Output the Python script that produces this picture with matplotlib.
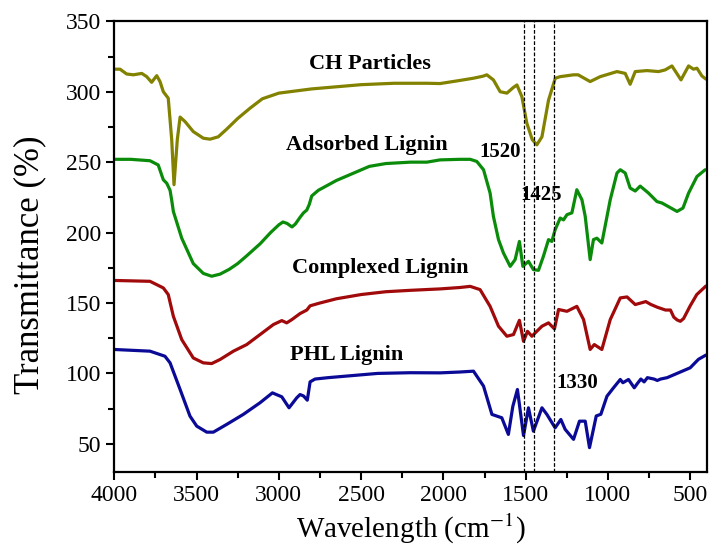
import matplotlib
matplotlib.use("Agg")
import matplotlib.pyplot as plt
from matplotlib.ticker import MultipleLocator

# FTIR spectra (wavenumber, transmittance)
ch_wn = [4000, 3965, 3925, 3884, 3833, 3803, 3773, 3742, 3722, 3702, 3672, 3651, 3637, 3617, 3600,
         3570, 3520, 3459, 3418, 3368, 3317, 3250, 3175, 3100, 3000, 2900, 2800, 2700, 2500, 2300,
         2100, 2020, 1900, 1817, 1760, 1736, 1696, 1655, 1614, 1575, 1553, 1523, 1493, 1460, 1432,
         1401, 1361, 1320, 1290, 1209, 1181, 1108, 1047, 945, 895, 865, 834, 763, 692, 652, 611,
         556, 510, 480, 459, 429, 405]
ch_t = [316, 316, 312.6, 312, 313, 310.7, 306.7, 311.4, 307.2, 300, 295.4, 266, 234, 266, 282,
        278.8, 271.7, 267, 266.3, 268, 273.4, 281, 288.3, 295, 299, 300.5, 302, 303, 305, 306,
        306, 305.8, 308, 309.6, 311, 312, 308.4, 300, 299, 303, 304.8, 296.5, 277.7, 266, 262.3,
        268, 294, 309.6, 310.7, 312, 312, 307.2, 310.7, 314.3, 313, 305.3, 314.3, 315, 314.3, 315.5, 318.3,
        308.4, 318.3, 316, 316.7, 311.2, 309]

ad_wn = [4000, 3900, 3783, 3733, 3702, 3681, 3661, 3651, 3641, 3590, 3520, 3459, 3408, 3357, 3300,
         3250, 3200, 3114, 3050, 3000, 2975, 2950, 2920, 2900, 2870, 2850, 2830, 2815, 2800, 2760,
         2650, 2550, 2450, 2350, 2200, 2100, 2020, 1900, 1837, 1797, 1756, 1716, 1696, 1665, 1635,
         1594, 1564, 1538, 1517, 1483, 1453, 1422, 1392, 1361, 1341, 1321, 1290, 1270, 1249, 1219,
         1189, 1158, 1138, 1108, 1088, 1067, 1037, 986, 945, 925, 895, 865, 834, 804, 753,
         702, 672, 641, 580, 544, 510, 459, 409]
ad_t = [252, 252, 251, 248, 237.5, 235, 230, 223, 215, 196, 178, 171, 169, 170.5, 174,
        178, 183, 192, 200, 205.5, 207.5, 206.5, 204, 206, 211, 214, 216, 220, 226, 230,
        237, 242, 247, 249, 250, 250, 251.6, 252, 252, 250.5, 244.6, 228, 211.5, 195, 185.5,
        176, 180.8, 193.7, 176, 179.6, 173.7, 173.2, 183.2, 195, 193.7, 202, 210.3, 209, 212.7, 214,
        230.4, 223.3, 211.5, 180.8, 195, 196, 192.6, 223.3, 242.3, 244.6, 242.3, 231.6, 229.5, 233, 228,
        222, 221, 219, 215, 217.4, 228, 239.8, 244.6]

cx_wn = [4000, 3783, 3702, 3672, 3641, 3590, 3520, 3459, 3408, 3357, 3276, 3195, 3114, 3033, 2982,
         2952, 2921, 2871, 2830, 2810, 2750, 2650, 2500, 2350, 2200, 2020, 1900, 1837, 1777, 1716,
         1665, 1614, 1574, 1538, 1513, 1489, 1462, 1442, 1401, 1361, 1325, 1300, 1249, 1189, 1148,
         1108, 1083, 1037, 986, 925, 884, 834, 800, 770, 740, 700, 650, 620, 600, 580,
         560, 540, 500, 460, 405]
cx_t = [166, 165.4, 160.7, 156, 140.6, 124, 111, 107.5, 107, 109.9, 115.8, 120.5, 127.6, 134.7, 137.5,
        135.9, 138.2, 142.5, 145, 148, 150, 153, 156, 158, 159, 160, 161, 161.8, 159.5, 147.6,
        133.5, 126.4, 127.6, 137.7, 122.8, 129.9, 126.4, 128.8, 133.5, 135.9, 131.6, 145.4, 144.1, 147.6, 138.2,
        117, 120.5, 117, 138.2, 153.6, 154.3, 148.9, 150, 151, 149, 147, 145, 145, 140, 138,
        137, 139, 148, 156, 162]

phl_wn = [4000, 3783, 3692, 3661, 3600, 3540, 3499, 3438, 3398, 3317, 3216, 3114, 3039, 2982, 2938,
          2891, 2871, 2850, 2827, 2810, 2780, 2700, 2600, 2500, 2400, 2200, 2020, 1900, 1817, 1756,
          1705, 1645, 1605, 1578, 1550, 1513, 1483, 1453, 1401, 1371, 1321, 1286, 1260, 1209, 1173,
          1138, 1112, 1071, 1043, 1006, 966, 925, 909, 875, 840, 820, 800, 780, 760, 720,
          700, 680, 640, 580, 540, 500, 450, 405]
phl_t = [117, 115.8, 112.2, 107.5, 88.6, 69.7, 62.6, 58.3, 58.3, 63.8, 70.9, 79.2, 86.2, 83.4, 75.6,
         82.7, 85, 84, 81, 94, 96, 97, 98, 99, 100, 100.5, 100.4, 101, 101.6, 91,
         70.9, 68.5, 56.7, 76.6, 88.6, 55.9, 75.6, 59, 75.6, 70.9, 61.4, 67.3, 60.3, 53.2, 66.1,
         66.1, 47.3, 69.8, 71, 83.8, 89.8, 95.7, 93.4, 95.7, 89.8, 93, 96, 94, 97, 96,
         95, 96, 97, 100, 102, 104, 110, 113]

curve_names = ["CH Particles", "Adsorbed Lignin", "Complexed Lignin", "PHL Lignin"]
curve_colors = ["#828200", "#0a8c0a", "#a00a0a", "#0a0a96"]
name_pos = [(2446, 320), (2463, 262), (2385, 175), (2585, 113)]

band_lines = [1512, 1450, 1330]
band_labels = ["1520", "1425", "1330"]
band_label_pos = [(1655, 257), (1406, 227), (1187, 93)]

plt.rcParams["font.family"] = ["Liberation Serif", "DejaVu Serif"]
plt.rcParams["mathtext.fontset"] = "stix"

fig = plt.figure(figsize=(7.12, 5.46), dpi=100)
ax = fig.add_axes([0.1605, 0.1355, 0.832, 0.8255])

spectra = [(ch_wn, ch_t), (ad_wn, ad_t), (cx_wn, cx_t), (phl_wn, phl_t)]
for (wn, t), col in zip(spectra, curve_colors):
    ax.plot(wn, t, color=col, lw=2.3, solid_joinstyle="round", solid_capstyle="round")

for name, col, (tx, ty) in zip(curve_names, curve_colors, name_pos):
    ax.text(tx, ty, name, fontsize=16, fontweight="bold", ha="center", va="center")

# dashed guide lines through the marked bands
for xv in band_lines:
    ax.axvline(xv, color="black", lw=0.9, ls=(0, (3, 1.5)))
for lab, (tx, ty) in zip(band_labels, band_label_pos):
    ax.text(tx, ty, lab, fontsize=15, fontweight="bold", ha="center", va="center")

ax.set_xlim(4000, 400)
ax.set_ylim(30, 350)
ax.xaxis.set_major_locator(MultipleLocator(500))
ax.xaxis.set_minor_locator(MultipleLocator(250))
ax.yaxis.set_major_locator(MultipleLocator(50))
ax.yaxis.set_minor_locator(MultipleLocator(25))
ax.set_yticks([50, 100, 150, 200, 250, 300, 350])

ax.tick_params(which="both", direction="out", width=1.5, labelsize=17, top=False, right=False)
ax.tick_params(which="major", length=6)
ax.tick_params(which="minor", length=4)
for sp in ax.spines.values():
    sp.set_linewidth(1.6)

ax.set_xlabel("Wavelength (cm$^{-1}$)", fontsize=21, labelpad=4)
ax.set_ylabel("Transmittance (%)", fontsize=25)
ax.yaxis.set_label_coords(-0.115, 0.46)

fig.savefig("out.png", dpi=100)
